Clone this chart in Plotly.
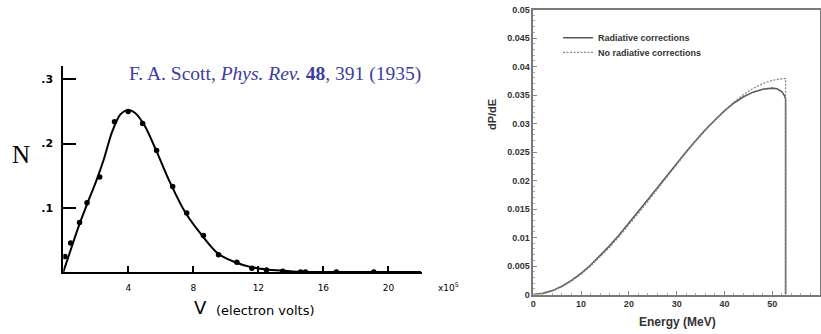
import plotly.graph_objects as go

W, H = 821, 334

# ---- Left panel: F. A. Scott (1935) beta spectrum ----
scott_V = [0.1, 0.45, 1.0, 1.46, 2.24, 3.15, 3.99, 4.88, 5.74, 6.73, 7.59, 8.62, 9.55,
           10.68, 11.6, 12.5, 13.5, 14.6, 14.9, 16.8, 19.1]
scott_N = [0.024, 0.045, 0.077, 0.108, 0.148, 0.234, 0.250, 0.231, 0.189, 0.133, 0.092,
           0.057, 0.027, 0.015, 0.006, 0.003, 0.001, 0.0, 0.0, 0.0, 0.0]
curve_V = [0, 0.5, 1.0, 1.5, 2.0, 2.5, 3.0, 3.5, 3.95, 4.4, 5.0, 5.7, 6.5, 7.5, 8.5,
           9.5, 10.5, 11.5, 12.5, 13.5, 14.5, 16.0, 22.0]
curve_N = [0.0, 0.038, 0.075, 0.108, 0.140, 0.176, 0.218, 0.245, 0.252, 0.248, 0.228,
           0.190, 0.143, 0.093, 0.058, 0.029, 0.016, 0.008, 0.004, 0.002, 0.0005, 0.0, 0.0]
scott_xticks = [4, 8, 12, 16, 20]
scott_yticks = [0.1, 0.2, 0.3]
scott_yticktext = [".1", ".2", ".3"]

# ---- Right panel: muon decay spectrum ----
E_nr = [0, 2, 4, 6, 8, 10, 12, 14, 16, 18, 20, 22, 24, 26, 28, 30, 32, 34, 36, 38, 40,
        42, 44, 46, 48, 50, 52, 52.8, 52.8]
P_nr = [0, 0.00016, 0.00062, 0.00136, 0.00235, 0.00356, 0.00498, 0.00658, 0.00833,
        0.01021, 0.01219, 0.01425, 0.01636, 0.01851, 0.02066, 0.02279, 0.02488,
        0.02689, 0.02882, 0.03062, 0.03228, 0.03377, 0.03507, 0.03616, 0.03700,
        0.03757, 0.03785, 0.03788, 0.0]
E_rc = [0, 2, 4, 6, 8, 10, 12, 14, 16, 18, 20, 22, 24, 26, 28, 30, 32, 34, 36, 38, 40,
        42, 44, 46, 48, 50, 51, 52, 52.5, 52.8, 52.8]
P_rc = [0, 0.0002, 0.00068, 0.00145, 0.00247, 0.00372, 0.00517, 0.0068, 0.00857,
        0.01047, 0.01247, 0.01453, 0.01665, 0.01878, 0.0209, 0.023, 0.02505, 0.027,
        0.0289, 0.0306, 0.0322, 0.0336, 0.0347, 0.0355, 0.0360, 0.0362, 0.0361,
        0.0356, 0.0350, 0.0343, 0.0]
muon_xticks = [0, 10, 20, 30, 40, 50, 60]
muon_yticks = [0, 0.005, 0.01, 0.015, 0.02, 0.025, 0.03, 0.035, 0.04, 0.045, 0.05]

fig = go.Figure()

fig.add_trace(go.Scatter(x=curve_V, y=curve_N, mode="lines", line=dict(color="black", width=2, shape="spline", smoothing=0.8),
                         xaxis="x", yaxis="y", showlegend=False, hoverinfo="skip"))
fig.add_trace(go.Scatter(x=scott_V, y=scott_N, mode="markers", marker=dict(color="black", size=5.5),
                         xaxis="x", yaxis="y", showlegend=False))

fig.add_trace(go.Scatter(x=E_rc, y=P_rc, mode="lines", name="Radiative corrections",
                         line=dict(color="#5a5a5a", width=1.6), xaxis="x2", yaxis="y2",
                         legend="legend"))
fig.add_trace(go.Scatter(x=E_nr, y=P_nr, mode="lines", name="No radiative corrections",
                         line=dict(color="#8a8a8a", width=1.3, dash="2px,1.5px"), xaxis="x2", yaxis="y2",
                         legend="legend2"))

hand = dict(family="DejaVu Sans", size=9, color="black")
legfont = dict(family="Liberation Sans", size=9, color="#333", weight="bold")
fig.update_layout(
    width=W, height=H, margin=dict(l=0, r=0, t=0, b=0, autoexpand=False),
    paper_bgcolor="white", plot_bgcolor="white",
    xaxis=dict(domain=[63.3 / W, 421.7 / W], range=[0, 22.05], showgrid=False, zeroline=False,
               showline=True, linecolor="black", linewidth=2, ticks="inside", ticklen=6,
               tickwidth=2, tickcolor="black", tickvals=scott_xticks, tickfont=hand,
               ticklabelstandoff=6, automargin=False),
    yaxis=dict(domain=[1 - 272 / H, 1 - 66 / H], range=[0, 0.3207], showgrid=False, zeroline=False,
               showline=True, linecolor="black", linewidth=2, ticks="inside", ticklen=13,
               tickwidth=2, tickcolor="black", tickvals=scott_yticks, ticktext=scott_yticktext,
               tickfont=dict(family="DejaVu Sans", size=11, color="black", weight="bold"),
               ticklabelstandoff=6, automargin=False),
    xaxis2=dict(domain=[533.3 / W, 820 / W], range=[0, 60], anchor="y2", showgrid=False,
                zeroline=False, showline=True, mirror=True, linecolor="#7a7a7a", linewidth=1.5,
                ticks="inside", ticklen=4, tickcolor="#888", tickvals=muon_xticks,
                minor=dict(ticks="inside", ticklen=2, dtick=2, tickcolor="#aaa"),
                tickfont=dict(family="Liberation Sans", size=9, color="#333", weight="bold"),
                automargin=False),
    yaxis2=dict(domain=[1 - 294.5 / H, 1 - 9.5 / H], range=[0, 0.05], anchor="x2", showgrid=False,
                zeroline=False, showline=True, mirror=True, linecolor="#7a7a7a", linewidth=1.5,
                ticks="inside", ticklen=4, tickcolor="#888", tickvals=muon_yticks,
                tickformat="~g",
                minor=dict(ticks="inside", ticklen=2, dtick=0.001, tickcolor="#aaa"),
                tickfont=dict(family="Liberation Sans", size=9, color="#333", weight="bold"),
                automargin=False),
    legend=dict(x=558 / W, y=1 - 37.7 / H, xanchor="left", yanchor="middle", bgcolor="rgba(0,0,0,0)",
                font=legfont, itemwidth=30),
    legend2=dict(x=558 / W, y=1 - 52.3 / H, xanchor="left", yanchor="middle", bgcolor="rgba(0,0,0,0)",
                 font=legfont, itemwidth=30),
    showlegend=True,
)

annos = [
    dict(x=275 / W, y=1 - 74 / H, text="F. A. Scott, <i>Phys. Rev.</i> <b>48</b>, 391 (1935)",
         font=dict(family="Liberation Serif", size=19.5, color="#3c3ca0")),
    dict(x=21 / W, y=1 - 155 / H, text="N", font=dict(family="Liberation Serif", size=25, color="black")),
    dict(x=200 / W, y=1 - 307 / H, text="V", font=dict(family="DejaVu Sans", size=18, color="black")),
    dict(x=265 / W, y=1 - 310 / H, text="(electron volts)", font=dict(family="DejaVu Sans", size=13, color="black")),
    dict(x=448 / W, y=1 - 287 / H, text="x10<sup>5</sup>", font=dict(family="DejaVu Sans", size=9, color="black")),
    dict(x=677 / W, y=1 - 322 / H, text="Energy (MeV)",
         font=dict(family="Liberation Sans", size=12, color="#333", weight="bold")),
    dict(x=492 / W, y=1 - 115 / H, text="dP/dE", textangle=-90,
         font=dict(family="Liberation Sans", size=11, color="#333", weight="bold")),
]
for a in annos:
    a.update(xref="paper", yref="paper", showarrow=False, xanchor="center", yanchor="middle")
fig.update_layout(annotations=annos)

fig.write_html("out.html", config={"displayModeBar": False},
               post_script="document.body.style.margin='0';document.body.style.overflow='hidden';")
